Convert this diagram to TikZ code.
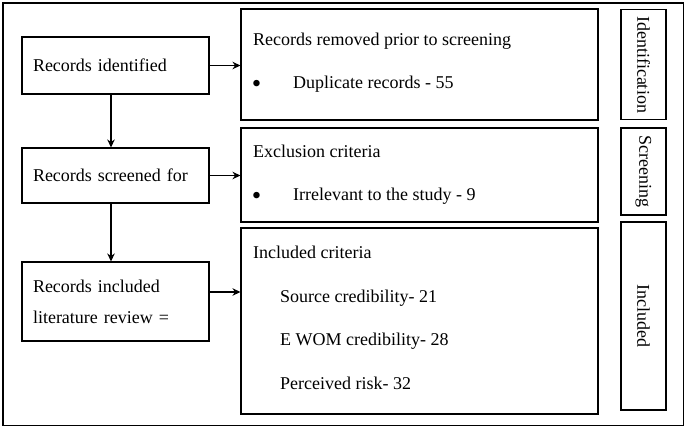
\documentclass[tikz,border=0pt]{standalone}
\usepackage{fontspec}
\setmainfont{Liberation Serif}
\usetikzlibrary{arrows.meta}

\begin{document}
\begin{tikzpicture}[
  x=1pt, y=-1pt,
  line join=miter,
  every node/.style={font=\fontsize{18pt}{21.6pt}\selectfont},
  stagebox/.style={draw, line width=1.1pt, text width=165pt, inner xsep=11pt, inner ysep=0pt, align=left},
  notebox/.style={draw, line width=1.1pt, minimum width=357pt, inner sep=0pt},
  phasebox/.style={draw, line width=1.1pt, rotate=-90, minimum height=45pt, inner sep=0pt},
  notetext/.style={anchor=base west, inner sep=0pt},
  dot/.style={anchor=center, inner sep=0pt, font=\fontsize{27pt}{27pt}\selectfont},
  flow/.style={line width=1.2pt, -{Stealth[length=8pt,width=7.5pt]}}
]
  \useasboundingbox (0,0) rectangle (687,429);
  \draw[line width=1.8pt] (3,3) rectangle (683.5,425.5);

  % left column
  \node[stagebox, minimum height=57pt] (identified) at (115.5,65.5) {Records identified};
  \node[stagebox, minimum height=55pt] (screened) at (115.5,175.5) {\makebox[165pt][s]{Records screened for}};
  \node[stagebox, minimum height=79pt] (included) at (115.5,301.5) {Records included\\[9.4pt]literature review =};

  % middle column
  \node[notebox, minimum height=111pt] (removed) at (419.5,64.5) {};
  \node[notebox, minimum height=94pt] (exclusion) at (419.5,175) {};
  \node[notebox, minimum height=186pt] (inclusion) at (419.5,321) {};

  \node[notetext] (removedtitle) at (253,45) {Records removed prior to screening};
  \node[dot] (dupbullet) at (256.7,86) {•};
  \node[notetext] (duplicates) at (293,88) {Duplicate records - 55};
  \node[notetext] (exclusiontitle) at (253,157) {Exclusion criteria};
  \node[dot] (irrbullet) at (256.7,198) {•};
  \node[notetext] (irrelevant) at (293,200) {Irrelevant to the study - 9};
  \node[notetext] (inclusiontitle) at (253,258) {Included criteria};
  \node[notetext] (sourcecred) at (280,302) {Source credibility- 21};
  \node[notetext] (ewomcred) at (280,345) {E WOM credibility- 28};
  \node[notetext] (risk) at (280,389) {Perceived risk- 32};

  % right column
  \node[phasebox, minimum width=110pt] (phaseid) at (643.5,64.5) {Identification};
  \node[phasebox, minimum width=87pt] (phasescreen) at (643.5,171.5) {Screening};
  \node[phasebox, minimum width=188pt] (phaseincl) at (643.5,316) {Included};

  % connectors
  \draw[flow] ([xshift=-4.5pt]identified.south) -- ([xshift=-4.5pt]screened.north);
  \draw[flow] ([xshift=-4.5pt]screened.south) -- ([xshift=-4.5pt]included.north);
  \draw[flow] (identified.east) -- (identified.east -| removed.west);
  \draw[flow] (screened.east) -- (screened.east -| exclusion.west);
  \draw[flow] ([yshift=9.5pt]included.east) -- ([yshift=9.5pt]included.east -| inclusion.west);
\end{tikzpicture}
\end{document}
